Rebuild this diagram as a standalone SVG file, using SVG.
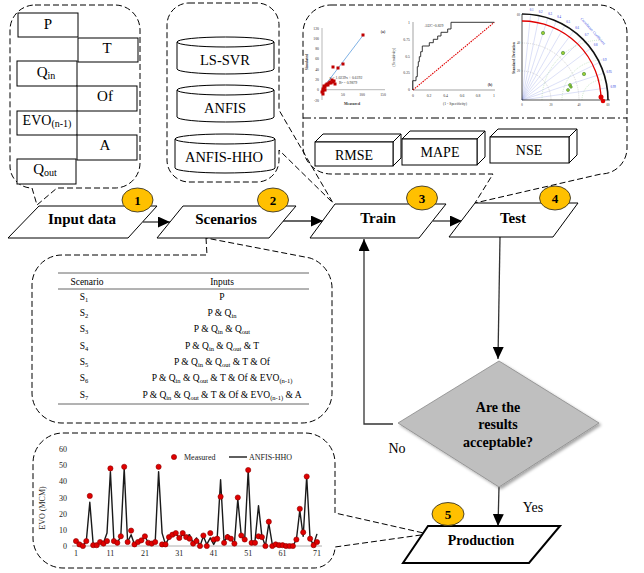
<svg xmlns="http://www.w3.org/2000/svg" width="644" height="573" viewBox="0 0 644 573">
<defs>
<style>
.t{font-family:"Liberation Serif","Times New Roman",serif;fill:#000}
.lb{font-size:15px;font-weight:bold;text-anchor:middle}
.in{font-size:15px;text-anchor:middle}
.sub{font-size:10px}
.tsub{font-size:6.5px}
.dash{fill:none;stroke:#000;stroke-width:1;stroke-dasharray:6 3}
.box{fill:#fff;stroke:#000;stroke-width:1}
.badge{fill:#FFC000;stroke:#222;stroke-width:0.8}
.bn{font-size:13px;font-weight:bold;text-anchor:middle}
.conn{fill:none;stroke:#333;stroke-width:1.3}
.tb{font-size:9.5px;text-anchor:middle}
.rule{stroke:#666;stroke-width:1}
.tk{font-size:8px;fill:#222}
.mt{font-size:3.8px;fill:#333;font-family:"Liberation Serif","Times New Roman",serif}
</style>
<marker id="arr" markerUnits="userSpaceOnUse" markerWidth="12" markerHeight="11" refX="12" refY="5.5" orient="auto">
<path d="M0,0 L12,5.5 L0,11 Z" fill="#000"/>
</marker>
<marker id="dot" markerUnits="userSpaceOnUse" markerWidth="7" markerHeight="7" refX="3.5" refY="3.5">
<circle cx="3.5" cy="3.5" r="2.6" fill="#E00000" stroke="#8B0000" stroke-width="0.6"/>
</marker>
<marker id="sq" markerUnits="userSpaceOnUse" markerWidth="4" markerHeight="4" refX="2" refY="2">
<rect x="0.5" y="0.5" width="3" height="3" fill="#C00000"/>
</marker>
<filter id="sh" x="-10%" y="-10%" width="130%" height="130%">
<feDropShadow dx="2" dy="2" stdDeviation="1.5" flood-color="#000" flood-opacity="0.35"/>
</filter>
</defs>
<rect width="644" height="573" fill="#fff"/>

<g id="callouts">
<path class="dash" d="M35,5 H115 A25,25 0 0 1 140,30 V163 A25,25 0 0 1 115,188 H57 L37,205 L32,188 A22,22 0 0 1 10,166 V30 A25,25 0 0 1 35,5 Z"/>
<path class="dash" d="M189,3 H257 A22,22 0 0 1 279,25 V110 L333,203 L279,150 V160 A22,22 0 0 1 257,182 H189 A22,22 0 0 1 167,160 V25 A22,22 0 0 1 189,3 Z"/>
<path class="dash" d="M331,5 H599 A28,28 0 0 1 627,33 V148 A26,26 0 0 1 601,174 L475,203 L493,174 H331 A28,28 0 0 1 303,146 V33 A28,28 0 0 1 331,5 Z"/>
<path class="dash" d="M206,238 L207,255 H62 A30,30 0 0 0 32,285 V393 A30,30 0 0 0 62,423 H302 A30,30 0 0 0 332,393 V290 A32,32 0 0 0 310,258 Z"/>
<path class="dash" d="M63,433 H305 A30,30 0 0 1 335,463 V513 L428,534 L335,547 A21,21 0 0 1 314,568 H63 A30,30 0 0 1 33,538 V463 A30,30 0 0 1 63,433 Z"/>
<line x1="303" y1="118" x2="627" y2="118" stroke="#000" stroke-width="1" stroke-dasharray="8 3 2 3"/>
</g>

<g id="inputs">
<g id="in-P"><rect class="box" x="18" y="13" width="60" height="24"/><text class="t in" x="48" y="29">P</text></g>
<g id="in-T"><rect class="box" x="78" y="38" width="60" height="24"/><text class="t in" x="107" y="53">T</text></g>
<g id="in-Qin"><rect class="box" x="17" y="61" width="60" height="25"/><text class="t in" x="46" y="77">Q<tspan class="sub" dy="2">in</tspan></text></g>
<g id="in-Of"><rect class="box" x="77" y="86" width="60" height="25"/><text class="t in" x="105" y="101">Of</text></g>
<g id="in-EVO"><rect class="box" x="17" y="111" width="60" height="24"/><text class="t in" x="47" y="125" style="font-size:14px">EVO<tspan class="sub" dy="2">(n-1)</tspan></text></g>
<g id="in-A"><rect class="box" x="77" y="135" width="60" height="25"/><text class="t in" x="105" y="150">A</text></g>
<g id="in-Qout"><rect class="box" x="17" y="159" width="59" height="25"/><text class="t in" x="45" y="174">Q<tspan class="sub" dy="2">out</tspan></text></g>
</g>

<g id="models">
<g id="m-lssvr"><path class="box" d="M177,42 V69 A48.5,5 0 0 0 274,69 V42"/><ellipse class="box" cx="225.5" cy="42" rx="48.5" ry="5"/><text class="t in" x="225" y="65" style="font-size:14.5px">LS-SVR</text></g>
<g id="m-anfis"><path class="box" d="M177,90 V117 A48.5,5 0 0 0 274,117 V90"/><ellipse class="box" cx="225.5" cy="90" rx="48.5" ry="5"/><text class="t in" x="225" y="113" style="font-size:14.5px">ANFIS</text></g>
<g id="m-anfishho"><path class="box" d="M175,139 V168 A50,5 0 0 0 275,168 V139"/><ellipse class="box" cx="225" cy="139" rx="50" ry="5"/><text class="t in" x="224" y="162" style="font-size:14.5px">ANFIS-HHO</text></g>
</g>

<g id="chart-scatter">
<line x1="322" y1="28" x2="322" y2="100" stroke="#888" stroke-width="0.6"/>
<line x1="322" y1="89.7" x2="385" y2="89.7" stroke="#888" stroke-width="0.6"/>
<line x1="322" y1="89.3" x2="364" y2="34" stroke="#7FB2E5" stroke-width="1"/>
<polyline fill="none" stroke="none" marker-start="url(#sq)" marker-mid="url(#sq)" marker-end="url(#sq)" points="323,89 324,88 324,86 325,87 326,85 327,84 328,85 329,83 330,82 331,83 332,80 333,82 334,81 335,84 333,67 338,68 343,64 363,35 323,91 325,90 322,92 323,94"/>
<g class="mt" text-anchor="end">
<text x="319" y="29.5">120</text><text x="319" y="39.8">100</text><text x="319" y="50">80</text><text x="319" y="60.4">60</text><text x="319" y="70.6">40</text><text x="319" y="80.9">20</text><text x="319" y="91.2">0</text><text x="319" y="101.5">-20</text>
</g>
<g class="mt" text-anchor="middle">
<text x="343" y="96">50</text><text x="362" y="96">100</text><text x="383" y="96">150</text>
<text x="352" y="105" font-weight="bold">Measured</text>
<text x="383" y="33" font-weight="bold">(a)</text>
<text x="346" y="78.5">y = 1.0239x + 0.6192</text>
<text x="348" y="83.5">R² = 0.9879</text>
<text transform="translate(308,62) rotate(-90)" font-weight="bold">Simulated</text>
</g>
</g>

<g id="chart-roc">
<line x1="413" y1="22" x2="413" y2="90" stroke="#666" stroke-width="0.6"/>
<line x1="413" y1="90" x2="495" y2="90" stroke="#666" stroke-width="0.6"/>
<line x1="413" y1="90" x2="494.3" y2="22.3" stroke="#E00000" stroke-width="1.1" stroke-dasharray="1.5 1"/>
<polyline fill="none" stroke="#222" stroke-width="0.9" points="412.7,90 412.7,80.7 416,80.7 416,76.7 417.3,76.7 417.3,66.7 418.3,66.7 418.3,61.7 419.3,61.7 419.3,56.7 420.7,56.7 420.7,51.7 422.3,51.7 422.3,46 429.3,46 429.3,42.7 433.3,42.7 433.3,39.3 437.7,39.3 437.7,36 441,36 441,32.3 447.7,32.3 447.7,29 451,29 451,22.3 494.3,22.3"/>
<g class="mt" text-anchor="end">
<text x="410" y="24">1</text><text x="410" y="40.7">0.75</text><text x="410" y="57.5">0.5</text><text x="410" y="74">0.25</text><text x="410" y="91">0</text>
</g>
<g class="mt" text-anchor="middle">
<text x="413" y="97">0</text><text x="429" y="97">0.2</text><text x="445.5" y="97">0.4</text><text x="462" y="97">0.6</text><text x="478" y="97">0.8</text><text x="494" y="97">1</text>
<text x="455" y="105">(1 - Specificity)</text>
<text x="434" y="26.5">AUC=0.829</text>
<text x="490" y="86" font-weight="bold">(b)</text>
<text transform="translate(395,57) rotate(-90)">(Sensitivity)</text>
</g>
</g>

<g id="chart-taylor">
<g stroke="#9AA6E8" stroke-width="0.35">
<line x1="522" y1="100" x2="530.6" y2="14.4"/><line x1="522" y1="100" x2="539.2" y2="15.7"/><line x1="522" y1="100" x2="547.8" y2="18"/><line x1="522" y1="100" x2="556.4" y2="21.1"/><line x1="522" y1="100" x2="565" y2="25.5"/><line x1="522" y1="100" x2="573.6" y2="31.2"/><line x1="522" y1="100" x2="582.2" y2="38.6"/><line x1="522" y1="100" x2="590.8" y2="48.4"/><line x1="522" y1="100" x2="599.4" y2="62.5"/><line x1="522" y1="100" x2="603.7" y2="73.2"/><line x1="522" y1="100" x2="607.1" y2="87.9"/>
</g>
<g fill="none" stroke="#8CC88C" stroke-width="0.4" stroke-dasharray="1 1">
<path d="M582,100 A20,20 0 0 1 602,80"/><path d="M562,100 A40,40 0 0 1 602,60"/><path d="M542,100 A60,60 0 0 1 602,40"/>
</g>
<g fill="none" stroke="#999" stroke-width="0.4" stroke-dasharray="1 1">
<path d="M522,71 A29,29 0 0 1 551,100"/><path d="M522,43 A57,57 0 0 1 579,100"/>
</g>
<line x1="522" y1="14" x2="522" y2="100" stroke="#222" stroke-width="0.8"/>
<line x1="522" y1="100" x2="610" y2="100" stroke="#222" stroke-width="0.8"/>
<path d="M522,14 A86,86 0 0 1 608,100" fill="none" stroke="#111" stroke-width="1.6"/>
<path d="M522,21 A79,79 0 0 1 601,100" fill="none" stroke="#E00000" stroke-width="1.3"/>
<g fill="#9ACD32" stroke="#2E7D32" stroke-width="0.5">
<circle cx="543" cy="33" r="1.7"/><circle cx="563" cy="53" r="1.7"/><circle cx="584" cy="74" r="1.7"/><circle cx="570" cy="85" r="1.5"/><circle cx="568" cy="90" r="1.5"/><circle cx="571" cy="87" r="1.3"/>
</g>
<circle cx="601" cy="97" r="2.5" fill="#E00000"/>
<circle cx="603" cy="101" r="2.3" fill="#E00000"/>
<g class="mt" style="fill:#2233DD;font-size:3px" text-anchor="middle">
<text x="531.5" y="11">0.1</text><text x="540.5" y="12.5">0.2</text><text x="550" y="14.5">0.3</text><text x="559" y="18">0.4</text><text x="568" y="22.5">0.5</text><text x="577" y="28.5">0.6</text><text x="586.5" y="36">0.7</text><text x="595.5" y="46">0.8</text><text x="604.5" y="61">0.9</text><text x="609" y="72.5">0.95</text><text x="613" y="88">0.99</text>
<text transform="translate(592,32) rotate(48)" style="font-size:3.8px">Correlation Coefficient</text>
</g>
<g class="mt" style="font-size:3px" text-anchor="middle">
<text x="522" y="106">0</text><text x="551" y="106">20</text><text x="579" y="106">40</text><text x="608" y="106">60</text>
</g>
<g class="mt" style="font-size:3px" text-anchor="end">
<text x="520" y="16">60</text><text x="520" y="44">40</text><text x="520" y="72">20</text>
</g>
<text class="mt" transform="translate(515,58) rotate(-90)" text-anchor="middle" font-weight="bold">Standard Deviation</text>
</g>

<g id="metrics">
<g id="mt-rmse"><polygon class="box" points="315,142 323,134 401,134 393,142"/><polygon class="box" points="393,142 401,134 401,158 393,166"/><rect class="box" x="315" y="142" width="78" height="24"/><text class="t in" x="354" y="160" style="font-size:14px">RMSE</text></g>
<g id="mt-mape"><polygon class="box" points="402,139 410,131 485,131 477,139"/><polygon class="box" points="477,139 485,131 485,157 477,165"/><rect class="box" x="402" y="139" width="75" height="26"/><text class="t in" x="440" y="157" style="font-size:14px">MAPE</text></g>
<g id="mt-nse"><polygon class="box" points="490,137 498,129 577,129 569,137"/><polygon class="box" points="569,137 577,129 577,155 569,163"/><rect class="box" x="490" y="137" width="79" height="26"/><text class="t in" x="529" y="155" style="font-size:14px">NSE</text></g>
</g>

<g id="table">
<line class="rule" x1="58" y1="273" x2="309" y2="273"/>
<line class="rule" x1="58" y1="289" x2="309" y2="289"/>
<line class="rule" x1="58" y1="404" x2="309" y2="404"/>
<text class="t tb" x="87" y="285">Scenario</text>
<text class="t tb" x="222" y="285">Inputs</text>
<text class="t tb" x="84" y="300">S<tspan class="tsub" dy="2">1</tspan></text>
<text class="t tb" x="84" y="316">S<tspan class="tsub" dy="2">2</tspan></text>
<text class="t tb" x="84" y="332">S<tspan class="tsub" dy="2">3</tspan></text>
<text class="t tb" x="84" y="349">S<tspan class="tsub" dy="2">4</tspan></text>
<text class="t tb" x="84" y="365">S<tspan class="tsub" dy="2">5</tspan></text>
<text class="t tb" x="84" y="381">S<tspan class="tsub" dy="2">6</tspan></text>
<text class="t tb" x="84" y="398">S<tspan class="tsub" dy="2">7</tspan></text>
<text class="t tb" x="222" y="300">P</text>
<text class="t tb" x="222" y="316">P &amp; Q<tspan class="tsub" dy="2">in</tspan></text>
<text class="t tb" x="222" y="332">P &amp; Q<tspan class="tsub" dy="2">in</tspan><tspan dy="-2"> &amp; Q</tspan><tspan class="tsub" dy="2">out</tspan></text>
<text class="t tb" x="222" y="349">P &amp; Q<tspan class="tsub" dy="2">in</tspan><tspan dy="-2"> &amp; Q</tspan><tspan class="tsub" dy="2">out</tspan><tspan dy="-2"> &amp; T</tspan></text>
<text class="t tb" x="222" y="365">P &amp; Q<tspan class="tsub" dy="2">in</tspan><tspan dy="-2"> &amp; Q</tspan><tspan class="tsub" dy="2">out</tspan><tspan dy="-2"> &amp; T &amp; Of</tspan></text>
<text class="t tb" x="222" y="381">P &amp; Q<tspan class="tsub" dy="2">in</tspan><tspan dy="-2"> &amp; Q</tspan><tspan class="tsub" dy="2">out</tspan><tspan dy="-2"> &amp; T &amp; Of &amp; EVO</tspan><tspan class="tsub" dy="2">(n-1)</tspan></text>
<text class="t tb" x="222" y="398">P &amp; Q<tspan class="tsub" dy="2">in</tspan><tspan dy="-2"> &amp; Q</tspan><tspan class="tsub" dy="2">out</tspan><tspan dy="-2"> &amp; T &amp; Of &amp; EVO</tspan><tspan class="tsub" dy="2">(n-1)</tspan><tspan dy="-2"> &amp; A</tspan></text>
</g>

<g id="evo-chart">
<line x1="72" y1="546" x2="322" y2="546" stroke="#999" stroke-width="0.8"/>
<g class="t tk" text-anchor="end">
<text x="67" y="549">0</text><text x="67" y="533">10</text><text x="67" y="516.5">20</text><text x="67" y="500.5">30</text><text x="67" y="484">40</text><text x="67" y="468">50</text><text x="67" y="452">60</text>
</g>
<g class="t tk" text-anchor="middle">
<text x="76" y="556">1</text><text x="110.4" y="556">11</text><text x="144.9" y="556">21</text><text x="179.3" y="556">31</text><text x="213.7" y="556">41</text><text x="248.2" y="556">51</text><text x="282.6" y="556">61</text><text x="317" y="556">71</text>
<text transform="translate(45,508) rotate(-90)">EVO (MCM)</text>
</g>
<polyline fill="none" stroke="#1a1a1a" stroke-width="1.4" stroke-linejoin="round" points="76,539.5 79.4,544.4 82.9,546 86.3,541.1 89.8,502.3 93.2,544.4 96.7,545.2 100.1,542 103.5,542.8 107,533.1 110.4,471.6 113.9,541.1 117.3,542.8 120.8,536.3 124.2,468.4 127.6,542 131.1,534.7 134.5,544.4 138,542 141.4,540.3 144.9,536.3 148.3,542.8 151.7,542.8 155.2,542 158.6,471.6 162.1,533.1 165.5,544.4 169,537.9 172.4,535.5 175.8,533.9 179.3,537.9 182.7,534.7 186.2,536.3 189.6,534.7 193.1,542.8 196.5,537.9 200,546 203.4,536.3 206.8,544.4 210.3,537.9 213.7,544.4 217.2,537.9 220.6,479.7 224.1,542.8 227.5,534.7 230.9,538.7 234.4,543.6 237.8,499.1 241.3,536.3 244.7,539.5 248.2,470 251.6,542 255,541.1 258.5,505.6 261.9,536.3 265.4,546 268.8,523.4 272.3,544.4 275.7,544.4 279.1,545.2 282.6,545.2 286,546 289.5,546 292.9,546 296.4,539.5 299.8,510.4 303.2,536.3 306.7,476.5 310.1,539.5 313.6,544.4 317,533.9"/>
<polyline fill="none" stroke="none" marker-start="url(#dot)" marker-mid="url(#dot)" marker-end="url(#dot)" points="76,541.1 79.4,544.4 82.9,546 86.3,541.1 89.8,495.9 93.2,545.2 96.7,545.2 100.1,542 103.5,543.6 107,541.1 110.4,468.4 113.9,541.1 117.3,542.8 120.8,536.3 124.2,466.8 127.6,542 131.1,530.6 134.5,544.4 138,542 141.4,540.3 144.9,536.3 148.3,542.8 151.7,543.6 155.2,542 158.6,466.8 162.1,544.4 165.5,544.4 169,537.1 172.4,534.7 175.8,533.1 179.3,537.9 182.7,533.1 186.2,537.1 189.6,538.7 193.1,543.6 196.5,541.1 200,546 203.4,535.5 206.8,546 210.3,533.1 213.7,539.5 217.2,538.7 220.6,496.7 224.1,542.8 227.5,537.1 230.9,538.7 234.4,543.6 237.8,497.5 241.3,535.5 244.7,539.5 248.2,470 251.6,542.8 255,542.8 258.5,536.3 261.9,537.1 265.4,546 268.8,521.7 272.3,546 275.7,544.4 279.1,545.2 282.6,545.2 286,546 289.5,546 292.9,546 296.4,539.5 299.8,508.8 303.2,532.3 306.7,476.5 310.1,538.7 313.6,545.2 317,542"/>
<circle cx="174" cy="457" r="2.6" fill="#E00000" stroke="#8B0000" stroke-width="0.6"/>
<text class="t tk" x="184" y="460">Measured</text>
<line x1="229" y1="457" x2="247" y2="457" stroke="#1a1a1a" stroke-width="1.4"/>
<text class="t tk" x="249" y="460">ANFIS-HHO</text>
</g>

<g id="connectors">
<line class="conn" x1="143" y1="222" x2="170" y2="222" marker-end="url(#arr)"/>
<line class="conn" x1="283" y1="221" x2="323" y2="221" marker-end="url(#arr)"/>
<line class="conn" x1="433" y1="221" x2="462" y2="221" marker-end="url(#arr)"/>
<line class="conn" x1="500" y1="237" x2="498" y2="359" marker-end="url(#arr)"/>
<polyline class="conn" points="393,424 364,424 364,239" marker-end="url(#arr)"/>
<line class="conn" x1="499" y1="487" x2="498" y2="526" marker-end="url(#arr)"/>
<text class="t" x="397" y="453" font-size="14" text-anchor="middle">No</text>
<text class="t" x="533" y="512" font-size="14" text-anchor="middle">Yes</text>
</g>

<g id="n-input"><polygon class="box" points="39,206 157,206 128,238 8,238"/><text class="t lb" x="82" y="224">Input data</text></g>
<g id="n-scen"><polygon class="box" points="183,206 296,206 269,238 157,238"/><text class="t lb" x="226" y="224">Scenarios</text></g>
<g id="n-train"><polygon class="box" points="335,204 446,204 419,238 310,238"/><text class="t lb" x="378" y="223">Train</text></g>
<g id="n-test"><polygon class="box" points="475,203 578,203 553,237 449,237"/><text class="t lb" x="513" y="223">Test</text></g>
<g id="n-decision"><polygon points="499,361 599,423 499,487 398,423" fill="#BFBFBF" stroke="#8a8a8a" stroke-width="0.8" filter="url(#sh)"/>
<text class="t lb" x="498" y="412" style="font-size:14px">Are the</text>
<text class="t lb" x="498" y="429" style="font-size:14px">results</text>
<text class="t lb" x="498" y="447" style="font-size:14px">acceptable?</text></g>
<g id="n-prod"><polygon points="428,526 560,526 529,563 403,563" fill="#fff" stroke="#000" stroke-width="2"/><text class="t lb" x="481" y="545" style="font-size:14px">Production</text></g>

<g id="badges">
<g id="b1"><ellipse class="badge" cx="137.5" cy="200" rx="15.5" ry="12"/><text class="t bn" x="137.5" y="204.5">1</text></g>
<g id="b2"><ellipse class="badge" cx="273" cy="200" rx="15.5" ry="12"/><text class="t bn" x="273" y="204.5">2</text></g>
<g id="b3"><ellipse class="badge" cx="422" cy="198" rx="15.5" ry="12"/><text class="t bn" x="422" y="202.5">3</text></g>
<g id="b4"><ellipse class="badge" cx="555" cy="198" rx="15.5" ry="12"/><text class="t bn" x="555" y="202.5">4</text></g>
<g id="b5"><ellipse class="badge" cx="448" cy="514" rx="16" ry="11.5"/><text class="t bn" x="448" y="518.5">5</text></g>
</g>
</svg>
